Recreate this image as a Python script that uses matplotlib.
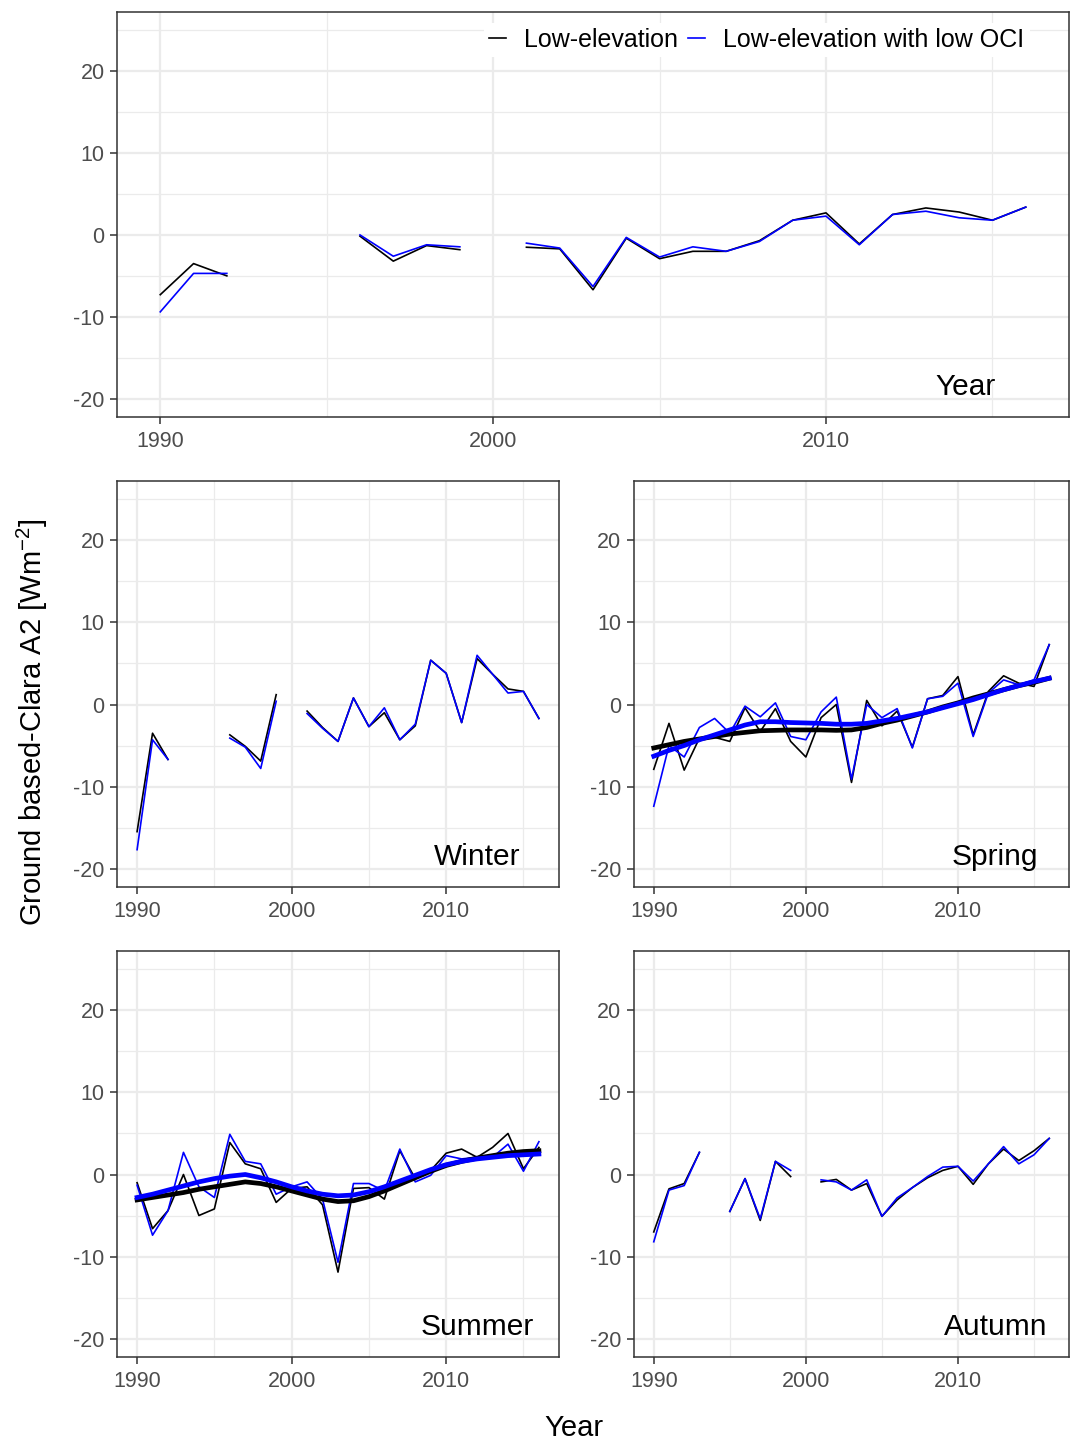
import numpy as np
import matplotlib.pyplot as plt
from matplotlib.ticker import MultipleLocator

plt.rcParams['font.family'] = ['Liberation Sans', 'DejaVu Sans']
plt.rcParams['mathtext.fontset'] = 'custom'
plt.rcParams['mathtext.rm'] = 'Liberation Sans'
plt.rcParams['mathtext.it'] = 'Liberation Sans'
plt.rcParams['axes.unicode_minus'] = False

nan = np.nan
years = list(range(1990, 2017))

# annual
year_low = [-7.3, -3.5, -5.0, nan, nan, nan, -0.15, -3.2, -1.3, -1.8, nan, -1.5, -1.7, -6.7,
            -0.4, -2.9, -2.0, -2.0, -0.7, 1.8, 2.7, -1.1, 2.5, 3.3, 2.8, 1.8, 3.4]
year_oci = [-9.4, -4.7, -4.7, nan, nan, nan, 0.0, -2.6, -1.2, -1.45, nan, -1.0, -1.6, -6.3,
            -0.3, -2.7, -1.45, -2.0, -0.8, 1.8, 2.3, -1.2, 2.5, 2.9, 2.1, 1.8, 3.4]

winter_low = [-15.5, -3.5, -6.7, nan, nan, nan, -3.7, -5.1, -6.9, 1.2, nan, -0.8, -2.8, -4.5,
              0.8, -2.7, -1.0, -4.3, -2.6, 5.4, 3.8, -2.2, 5.6, 3.7, 1.9, 1.6, -1.7]
winter_oci = [-17.7, -4.3, -6.7, nan, nan, nan, -4.1, -5.2, -7.8, 0.4, nan, -1.1, -2.9, -4.5,
              0.8, -2.7, -0.4, -4.3, -2.4, 5.4, 3.8, -2.2, 6.0, 3.7, 1.4, 1.6, -1.7]

spring_low = [-7.9, -2.3, -8.0, -4.1, -4.0, -4.5, -0.4, -3.3, -0.5, -4.5, -6.4, -1.6, 0.0, -9.5,
              0.5, -2.6, -0.8, -5.2, 0.7, 1.1, 3.4, -3.7, 1.6, 3.5, 2.6, 2.2, 7.3]
spring_oci = [-12.4, -5.0, -6.4, -2.8, -1.7, -3.5, -0.2, -1.5, 0.2, -3.9, -4.3, -0.9, 0.9, -9.1,
              0.0, -1.6, -0.5, -5.3, 0.7, 1.0, 2.6, -3.9, 1.4, 3.0, 2.4, 3.0, 7.3]
spring_low_smooth = [-5.3, -4.9, -4.5, -4.2, -3.9, -3.6, -3.4, -3.2, -3.15, -3.1, -3.1, -3.1, -3.15,
                     -3.1, -2.8, -2.3, -1.9, -1.4, -0.9, -0.3, 0.2, 0.8, 1.3, 1.8, 2.3, 2.7, 3.2]
spring_oci_smooth = [-6.3, -5.6, -5.0, -4.3, -3.7, -3.1, -2.5, -2.1, -2.1, -2.2, -2.25, -2.3, -2.4,
                     -2.4, -2.3, -2.0, -1.7, -1.3, -0.9, -0.4, 0.1, 0.6, 1.2, 1.8, 2.3, 2.8, 3.2]

summer_low = [-1.0, -6.6, -4.4, 0.0, -5.0, -4.2, 3.9, 1.3, 0.7, -3.4, -1.7, -1.5, -3.7, -11.9,
              -1.7, -1.6, -3.0, 2.9, -0.5, 0.5, 2.6, 3.1, 2.1, 3.3, 5.0, 0.7, 3.3]
summer_oci = [-1.3, -7.4, -4.4, 2.7, -1.5, -2.8, 4.9, 1.6, 1.3, -2.4, -1.5, -0.9, -3.0, -10.7,
              -1.1, -1.1, -2.0, 3.1, -0.9, -0.1, 2.3, 1.9, 2.1, 2.1, 3.7, 0.4, 4.0]
summer_low_smooth = [-3.1, -2.8, -2.5, -2.2, -1.8, -1.5, -1.2, -0.9, -1.1, -1.5, -2.0, -2.5, -3.0,
                     -3.3, -3.2, -2.7, -2.0, -1.2, -0.4, 0.4, 1.1, 1.6, 2.0, 2.3, 2.6, 2.8, 2.9]
summer_oci_smooth = [-2.8, -2.4, -1.9, -1.4, -0.9, -0.5, -0.2, 0.0, -0.4, -0.9, -1.5, -2.0, -2.4,
                     -2.6, -2.5, -2.1, -1.5, -0.8, -0.1, 0.6, 1.2, 1.6, 1.9, 2.1, 2.3, 2.4, 2.5]

autumn_low = [-7.0, -1.75, -1.1, 2.7, nan, -4.5, -0.5, -5.6, 1.6, -0.25, nan, -0.9, -0.6, -1.9,
              -1.1, -5.1, -3.1, -1.6, -0.4, 0.5, 1.0, -1.2, 1.3, 3.1, 1.7, 2.9, 4.4]
autumn_oci = [-8.2, -1.9, -1.35, 2.7, nan, -4.5, -0.5, -5.4, 1.6, 0.5, nan, -0.65, -0.9, -1.9,
              -0.65, -5.1, -2.85, -1.6, -0.25, 0.9, 1.0, -0.8, 1.3, 3.4, 1.3, 2.4, 4.4]

W, H = 1070, 1445
fig = plt.figure(figsize=(W / 100, H / 100), dpi=100)


def px_axes(x0, y0, x1, y1):
    return fig.add_axes([x0 / W, 1 - y1 / H, (x1 - x0) / W, (y1 - y0) / H])


def style(ax, label, label_x):
    ax.set_xlim(1988.7, 2017.3)
    ax.set_ylim(-22.25, 27.25)
    ax.xaxis.set_minor_locator(MultipleLocator(5))
    ax.yaxis.set_minor_locator(MultipleLocator(5))
    ax.set_yticks([-20, -10, 0, 10, 20])
    ax.set_xticks([1990, 2000, 2010])
    ax.grid(which='major', color='#EBEBEB', lw=1.6, zorder=0)
    ax.grid(which='minor', color='#EBEBEB', lw=0.9, zorder=0)
    ax.set_axisbelow(True)
    ax.tick_params(which='major', length=5, width=1.1, color='#333333',
                   labelsize=15.5, labelcolor='#4D4D4D', pad=5)
    ax.tick_params(axis='y', which='major', pad=4)
    ax.tick_params(which='minor', length=0)
    for s in ax.spines.values():
        s.set_color('#333333')
        s.set_linewidth(1.1)
    ax.text(label_x, -18.6, label, ha='center', va='center', fontsize=21.5, color='black')


def draw(ax, low, oci, low_s=None, oci_s=None):
    ax.plot(years, low, color='black', lw=1.2, zorder=3)
    ax.plot(years, oci, color='blue', lw=1.2, zorder=4)
    if low_s is not None:
        ax.plot(years, low_s, color='black', lw=3.4, zorder=5)
        ax.plot(years, oci_s, color='blue', lw=3.4, zorder=6)


ax_year = px_axes(117, 12, 1069, 417)
draw(ax_year, year_low, year_oci)
style(ax_year, 'Year', 2014.2)

ax_win = px_axes(117, 481, 559, 887)
draw(ax_win, winter_low, winter_oci)
style(ax_win, 'Winter', 2012.0)

ax_spr = px_axes(634, 481, 1069, 887)
draw(ax_spr, spring_low, spring_oci, spring_low_smooth, spring_oci_smooth)
style(ax_spr, 'Spring', 2012.45)

ax_sum = px_axes(117, 951, 559, 1357)
draw(ax_sum, summer_low, summer_oci, summer_low_smooth, summer_oci_smooth)
style(ax_sum, 'Summer', 2012.0)

ax_aut = px_axes(634, 951, 1069, 1357)
draw(ax_aut, autumn_low, autumn_oci)
style(ax_aut, 'Autumn', 2012.45)

h1, = ax_year.plot([], [], color='black', lw=1.2)
h2, = ax_year.plot([], [], color='blue', lw=1.2)
leg = fig.legend([h1, h2], ['Low-elevation', 'Low-elevation with low OCI'],
                 loc='center', bbox_to_anchor=(757 / W, 1 - 40 / H), ncol=2,
                 fontsize=18, frameon=True, facecolor='white', edgecolor='none',
                 framealpha=1, handlelength=0.65, handletextpad=0.75,
                 columnspacing=0.4, borderpad=0.2)

fig.text(574 / W, 1 - 1428 / H, 'Year', ha='center', va='center', fontsize=21)
fig.text(32 / W, 1 - 722 / H, r'Ground based-Clara A2 [Wm$^{-2}$]', ha='center',
         va='center', rotation=90, fontsize=21)

fig.savefig('out.png', dpi=100)
